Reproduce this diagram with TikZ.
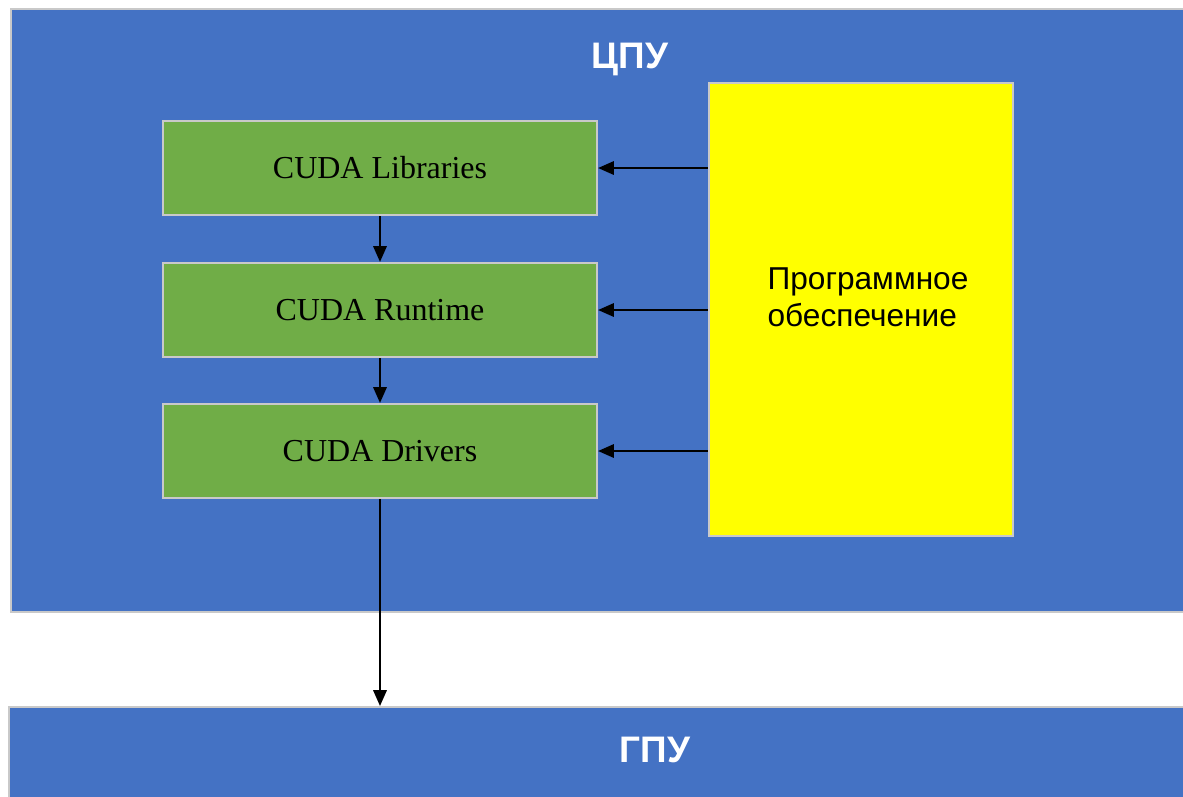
\documentclass[tikz,border=0pt]{standalone}
\usepackage{fontspec}
\setmainfont{Liberation Sans}
\newfontfamily\cudafont{Liberation Serif}
\usepackage{xcolor}
\usepackage{tikz}
\usetikzlibrary{arrows.meta}

\definecolor{cpublue}{HTML}{4472C4}
\definecolor{cudagreen}{HTML}{70AD47}
\definecolor{softyellow}{HTML}{FFFF00}
\definecolor{edgegray}{HTML}{C9C9C9}

\tikzset{
    unitbox/.style={fill=cpublue, draw=edgegray, line width=0.6pt, anchor=north west, inner sep=0pt},
    cudabox/.style={fill=cudagreen, draw=edgegray, line width=0.6pt, minimum width=4.34cm, minimum height=0.94cm,
        font=\cudafont\fontsize{9.1}{11}\selectfont},
    unitlabel/.style={text=white, font=\bfseries\fontsize{10.5}{12}\selectfont},
    arr/.style={-{Triangle[length=4.5pt, width=3.8pt]}, line width=0.6pt}
}

\begin{document}
\begin{tikzpicture}
                \useasboundingbox (0, 0) rectangle (11.83, -7.96);

                \node[unitbox, minimum width=11.9cm, minimum height=6.03cm] (cpu) at (0.10, -0.08) {};
                \node[unitbox, minimum width=11.9cm, minimum height=1.2cm] (gpu) at (0.08, -7.06) {};
                \node[unitlabel] (cputitle) at (6.30, -0.59) {ЦПУ};
                \node[unitlabel] (gputitle) at (6.55, -7.50) {ГПУ};

                \node[cudabox] (lib) at (3.80, -1.68) {CUDA Libraries};
                \node[cudabox] (run) at (3.80, -3.10) {CUDA Runtime};
                \node[cudabox] (drv) at (3.80, -4.51) {CUDA Drivers};

                \node[fill=softyellow, draw=edgegray, line width=0.6pt, minimum width=3.04cm, minimum height=4.53cm] (soft) at (8.61, -3.095) {};
                \node[align=left, font=\fontsize{9}{10.5}\selectfont] (softtext) at (8.68, -2.97) {Программное\\обеспечение};

                \draw[arr] (soft.west |- lib) -- (lib.east);
                \draw[arr] (soft.west |- run) -- (run.east);
                \draw[arr] (soft.west |- drv) -- (drv.east);

                \draw[arr] (lib) -- (run);
                \draw[arr] (run) -- (drv);
                \draw[arr] (drv) -- (drv |- gpu.north);
            \end{tikzpicture}
\end{document}
